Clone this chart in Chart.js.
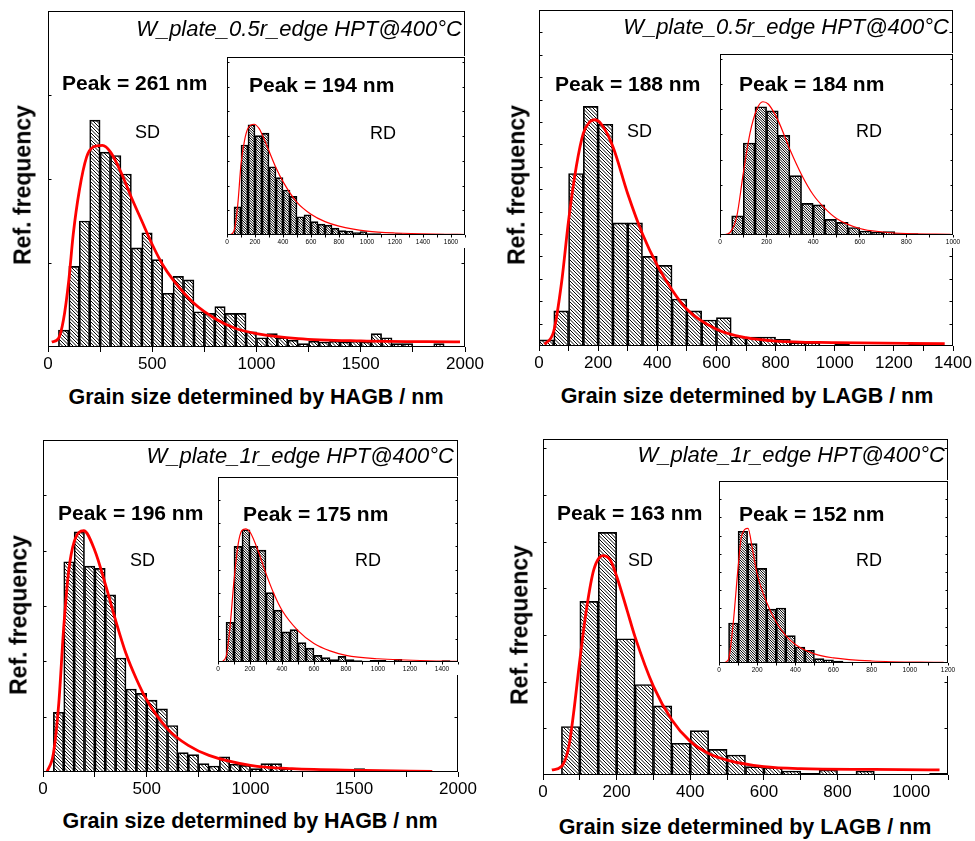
<!DOCTYPE html>
<html>
<head>
<meta charset="utf-8">
<title>Grain size distributions</title>
<script src="https://cdn.jsdelivr.net/npm/chart.js@4.4.0/dist/chart.umd.min.js"></script>
<style>
  body { margin: 0; background: #fff; }
  #fig { position: relative; width: 975px; height: 841px; overflow: hidden; font-family: "Liberation Sans", Arial, sans-serif; }
  #fig canvas { position: absolute; }
  .txt { position: absolute; white-space: nowrap; line-height: 1; color: #000; }
</style>
</head>
<body>
<div id="fig"></div>
<script>
'use strict';
Chart.defaults.font.family = '"Liberation Sans", Arial, sans-serif';
Chart.defaults.color = '#000';

// ─── data ─────────────────────────────────────────────
// relative frequency per 50 nm bin, bin i covers [50i, 50i+50) nm
const BIN_NM = 50;

// W_plate_0.5r_edge, HAGB
const sdHagb05 = [0, 1.0, 4.8, 7.5, 13.5, 11.6, 11.4, 10.3, 5.9, 6.8, 5.2, 3.2, 4.2, 4.0, 2.1, 2.0, 2.4, 2.0, 2.0, 0.9,
  0.55, 0.8, 0.55, 0.4, 0.2, 0.35, 0.3, 0.35, 0.3, 0.35, 0.3, 0.8, 0.55, 0.2, 0.2, 0, 0, 0.2];
const sdHagb05FitX = [18, 50, 74, 100, 121, 150, 185, 217, 261, 300, 350, 400, 450, 500, 550, 600, 700, 800, 900, 1000, 1200, 1500, 1976];
const sdHagb05FitY = [0.3, 0.5, 1.6, 4.0, 6.7, 9.3, 11.3, 11.9, 12.0, 11.6, 10.4, 8.9, 7.5, 6.1, 4.9, 4.0, 2.6, 1.7, 1.1, 0.8, 0.5, 0.36, 0.3];
const rdHagb05 = [0, 5.7, 18.2, 22.3, 20.1, 20.6, 13.8, 11.6, 9.1, 7.8, 3.7, 4.1, 2.7, 2.2, 2.0, 1.4, 0.9, 0.8, 0.5, 0.7,
  0.3, 0.3, 0.15, 0.2, 0.3, 0.2, 0.2, 0.1, 0, 0, 0.2, 0, 0.2];
const rdHagb05FitX = [17, 50, 77, 100, 125, 150, 194, 230, 250, 300, 350, 400, 500, 600, 700, 800, 1000, 1200, 1600, 1700];
const rdHagb05FitY = [0, 0.8, 6.2, 14.3, 19.1, 21.6, 22.4, 21.5, 20.4, 17.0, 13.6, 10.8, 6.6, 4.2, 2.7, 1.8, 0.8, 0.4, 0.15, 0.1];

// W_plate_0.5r_edge, LAGB
const sdLagb05 = [0.27, 1.57, 7.7, 10.7, 9.9, 5.5, 5.5, 4.0, 3.6, 2.1, 1.57, 1.16, 1.27, 0.4, 0.4, 0.4, 0.3, 0.15, 0.15, 0,
  0.1, 0, 0, 0, 0, 0.07];
const sdLagb05FitX = [19, 50, 76, 100, 126, 150, 171, 188, 211, 250, 300, 350, 400, 450, 500, 600, 700, 800, 1000, 1372];
const sdLagb05FitY = [0.07, 0.67, 2.8, 5.6, 8.0, 9.5, 10.0, 10.1, 9.9, 8.9, 6.8, 5.0, 3.6, 2.5, 1.64, 0.75, 0.37, 0.22, 0.15, 0.1];
const rdLagb05 = [0, 3.8, 18.3, 25.5, 24.7, 19.8, 11.8, 6.3, 6.0, 3.1, 2.5, 1.5, 0.8, 0.6, 0.7, 0.3, 0.27, 0.2, 0.13, 0.13];
const rdLagb05FitX = [14, 43, 72, 100, 129, 158, 184, 208, 250, 300, 350, 400, 450, 500, 600, 700, 800, 990];
const rdLagb05FitY = [0, 0.5, 3.7, 12.3, 20.3, 25.0, 26.5, 26.0, 22.7, 17.0, 12.0, 8.0, 5.3, 3.3, 1.3, 0.6, 0.27, 0.13];

// W_plate_1r_edge, HAGB
const sdHagb1 = [0, 5.4, 19.0, 21.7, 18.6, 18.4, 16.0, 10.3, 7.5, 7.1, 6.5, 5.7, 4.2, 1.75, 1.57, 0.75, 0.54, 1.36, 0.7, 0.6,
  0.3, 0.75, 0.75, 0.3, 0, 0, 0, 0, 0, 0, 0.3, 0, 0, 0, 0.1, 0, 0.1];
const sdHagb1FitX = [19, 50, 76, 100, 124, 150, 196, 250, 300, 350, 400, 450, 500, 600, 700, 800, 1000, 1200, 1550, 1876];
const sdHagb1FitY = [0, 1.66, 6.2, 13.1, 18.2, 20.8, 21.8, 20.0, 17.0, 13.7, 10.7, 8.4, 6.5, 3.9, 2.4, 1.5, 0.6, 0.3, 0.15, 0.06];
const rdHagb1 = [0, 8.6, 25.0, 28.6, 25.0, 24.2, 15.0, 11.2, 6.5, 7.0, 4.2, 3.0, 1.44, 0.94, 0.5, 1.2, 0.5, 0.29, 0.22, 0.36,
  0.36, 0, 0.58, 0, 0, 0, 0, 0, 0.29];
const rdHagb1FitX = [21, 50, 73, 100, 126, 149, 175, 200, 250, 300, 350, 400, 500, 600, 700, 800, 1000, 1400, 1500];
const rdHagb1FitY = [0, 1.1, 6.8, 17.6, 25.5, 28.4, 28.8, 28.1, 24.1, 19.1, 14.7, 11.2, 6.8, 4.0, 2.4, 1.44, 0.7, 0.2, 0.14];

// W_plate_1r_edge, LAGB
const sdLagb1 = [0, 5.2, 18.6, 26.0, 14.6, 9.7, 7.4, 3.4, 4.75, 2.75, 2.14, 0.9, 0.8, 0.43, 0.18, 0.54, 0, 0.43, 0, 0, 0, 0.18];
const sdLagb1FitX = [24, 50, 70, 83, 100, 119, 138, 163, 183, 200, 228, 250, 300, 350, 400, 450, 500, 600, 700, 900, 1077];
const sdLagb1FitY = [0.54, 0.9, 3.0, 6.6, 12.3, 18.0, 22.0, 23.5, 23.0, 21.3, 17.7, 14.8, 9.5, 5.9, 3.6, 2.3, 1.6, 0.9, 0.68, 0.6, 0.54];
const rdLagb1 = [0, 11.0, 36.2, 32.8, 26.0, 14.8, 15.1, 7.5, 4.4, 3.5, 1.2, 0.9, 0.55, 0.27, 0.18, 0.18];
const rdLagb1FitX = [21, 49, 74, 100, 118, 152, 176, 200, 250, 300, 350, 400, 500, 600, 800, 1177];
const rdLagb1FitY = [0, 0.9, 10.7, 26.2, 34.8, 37.0, 31.0, 24.4, 16.6, 11.2, 7.5, 5.1, 2.5, 1.4, 0.55, 0.18];

// modes of the fitted curves (nm)
const peaksSd = [261, 188, 196, 163];
const peaksRd = [194, 184, 175, 152];

const sampleNames = ['W_plate_0.5r_edge HPT@400°C', 'W_plate_0.5r_edge HPT@400°C', 'W_plate_1r_edge HPT@400°C', 'W_plate_1r_edge HPT@400°C'];
const xTitles = ['Grain size determined by HAGB / nm', 'Grain size determined by LAGB / nm',
  'Grain size determined by HAGB / nm', 'Grain size determined by LAGB / nm'];

// axis ranges: [max, major label step, minor tick step]
const sdAxes = [[2000, 500, 250], [1400, 200, 100], [2000, 500, 250], [1100, 200, 100]];
const rdAxes = [[1700, 200, 100], [1000, 200, 100], [1500, 200, 100], [1200, 200, 100]];
// y ranges: [max, tick step]
const sdY = [[20, 5], [15, 1], [30, 5], [36, 5]];
const rdY = [[36, 5], [36, 5], [40, 5], [50, 5]];

const series = [
  { sd: sdHagb05, sdFx: sdHagb05FitX, sdFy: sdHagb05FitY, rd: rdHagb05, rdFx: rdHagb05FitX, rdFy: rdHagb05FitY },
  { sd: sdLagb05, sdFx: sdLagb05FitX, sdFy: sdLagb05FitY, rd: rdLagb05, rdFx: rdLagb05FitX, rdFy: rdLagb05FitY },
  { sd: sdHagb1, sdFx: sdHagb1FitX, sdFy: sdHagb1FitY, rd: rdHagb1, rdFx: rdHagb1FitX, rdFy: rdHagb1FitY },
  { sd: sdLagb1, sdFx: sdLagb1FitX, sdFy: sdLagb1FitY, rd: rdLagb1, rdFx: rdLagb1FitX, rdFy: rdLagb1FitY },
];

// ─── layout (page pixels) ─────────────────────────────
const layout = [
  { main: { l: 48, t: 11, r: 465, b: 347 }, inset: { l: 227, t: 57, r: 465, b: 235 },
    title: [462, 37], peakSd: [62, 90], sd: [135, 138], peakRd: [249, 91.5], rd: [370, 139],
    xTitle: [256, 405], yTitle: [23, 185] },
  { main: { l: 539, t: 10, r: 953, b: 346 }, inset: { l: 720, t: 54, r: 953, b: 235 },
    title: [949, 34.5], peakSd: [555, 90.5], sd: [627, 137], peakRd: [739, 90.5], rd: [856, 137.5],
    xTitle: [747, 404], yTitle: [517, 185] },
  { main: { l: 43, t: 440, r: 458, b: 772 }, inset: { l: 218, t: 477, r: 458, b: 662 },
    title: [454, 463.5], peakSd: [58, 520], sd: [130, 566], peakRd: [243, 520.5], rd: [355, 566.5],
    xTitle: [250, 829], yTitle: [19, 615] },
  { main: { l: 543, t: 439, r: 948, b: 775 }, inset: { l: 719, t: 481, r: 948, b: 663 },
    title: [945, 462.5], peakSd: [557, 520], sd: [628, 566.5], peakRd: [739, 520.5], rd: [856, 566.5],
    xTitle: [745, 835], yTitle: [520, 625] },
];

const fig = document.getElementById('fig');

// diagonal "\" hatching: `lines` strokes per `tile` px so the spacing can be fractional
function hatch(tile, lines) {
  const c = document.createElement('canvas');
  c.width = c.height = tile;
  const g = c.getContext('2d');
  g.strokeStyle = '#000'; g.lineWidth = 1;
  g.beginPath();
  const gap = tile / lines;
  for (let off = -tile; off <= tile + 0.01; off += gap) {
    g.moveTo(off - 1, -1); g.lineTo(off + tile + 1, tile + 1);
  }
  g.stroke();
  return g.createPattern(c, 'repeat');
}

// box around the plot, inward y ticks on both sides, optional white backing for insets
function framePlugin(o) {
  return {
    id: 'frame',
    beforeDraw(chart) {
      if (!o.paper) return;
      const a = chart.chartArea, ctx = chart.ctx;
      ctx.save(); ctx.fillStyle = '#fff';
      ctx.fillRect(a.left - 1, a.top - 1, a.right - a.left + 2, a.bottom - a.top + o.paper);
      ctx.restore();
    },
    afterDraw(chart) {
      const a = chart.chartArea, ctx = chart.ctx, y = chart.scales.y;
      const l = Math.round(a.left) + 0.5, r = Math.round(a.right) - 0.5;
      const t = Math.round(a.top) + 0.5, b = Math.round(a.bottom) - 0.5;
      ctx.save(); ctx.strokeStyle = '#000'; ctx.lineWidth = 1;
      ctx.strokeRect(l, t, r - l, b - t);
      ctx.beginPath();
      for (let v = o.yStep; v < o.yMax - 1e-6; v += o.yStep) {
        const p = Math.round(y.getPixelForValue(v)) + 0.5;
        ctx.moveTo(l, p); ctx.lineTo(l + o.tick, p);
        ctx.moveTo(r, p); ctx.lineTo(r - o.tick, p);
      }
      ctx.stroke(); ctx.restore();
    }
  };
}

function histogram(box, st, bins, fx, fy, axis, yr) {
  const pad = st.pad;
  const w = box.r - box.l + pad.l + pad.r;
  const h = box.b - box.t + pad.t + st.axisH;
  const cv = document.createElement('canvas');
  cv.width = w; cv.height = h;
  Object.assign(cv.style, { left: (box.l - pad.l) + 'px', top: (box.t - pad.t) + 'px', width: w + 'px', height: h + 'px' });
  fig.appendChild(cv);
  const [xMax, major, minor] = axis;
  const [yMax, yStep] = yr;
  return new Chart(cv, {
    type: 'bar',
    data: {
      datasets: [
        { type: 'line', data: fx.map((x, i) => ({ x, y: fy[i] })), borderColor: '#ff0000', borderWidth: st.lw,
          pointRadius: 0, cubicInterpolationMode: 'monotone', fill: false, order: 0 },
        { type: 'bar', data: bins.map((v, i) => ({ x: BIN_NM * (i + 0.5), y: v })), backgroundColor: hatch(st.hatch[0], st.hatch[1]),
          borderColor: '#000', borderWidth: 1, barPercentage: 1, categoryPercentage: 1, order: 1 }
      ]
    },
    options: {
      responsive: false, maintainAspectRatio: false, animation: false, events: [],
      layout: { padding: { left: pad.l, right: pad.r, top: pad.t, bottom: 0 } },
      plugins: { legend: { display: false }, tooltip: { enabled: false } },
      scales: {
        x: {
          type: 'linear', min: 0, max: xMax, offset: false,
          border: { display: false },
          grid: { offset: false, drawOnChartArea: false, tickLength: st.tickLen, color: '#000' },
          ticks: { stepSize: minor, autoSkip: false, maxRotation: 0, padding: st.tickPad, font: { size: st.font },
            callback: v => (v % major === 0 ? String(v) : '') },
          afterFit: s => { s.height = st.axisH; }
        },
        y: { display: false, min: 0, max: yMax }
      }
    },
    plugins: [framePlugin({ paper: st.paper, yStep, yMax, tick: st.yTick })]
  });
}

const mainStyle = { pad: { l: 25, r: 25, t: 2 }, axisH: 30, tickLen: 5, tickPad: 2, font: 17, lw: 2.8, hatch: [7, 2], yTick: 3, paper: 0 };
const insetStyle = { pad: { l: 10, r: 10, t: 2 }, axisH: 13, tickLen: 2.5, tickPad: 1, font: 6.5, lw: 1.2, hatch: [5, 2], yTick: 2, paper: 15 };

function label(str, x, base, size, extra, anchor) {
  const el = document.createElement('div');
  el.className = 'txt';
  el.textContent = str;
  el.style.fontSize = size + 'px';
  el.style.top = (base - 0.8465 * size) + 'px';
  if (anchor === 'right') el.style.right = (975 - x) + 'px';
  else if (anchor === 'center') { el.style.left = x + 'px'; el.style.transform = 'translateX(-50%)'; }
  else el.style.left = x + 'px';
  Object.assign(el.style, extra || {});
  fig.appendChild(el);
}

function yLabel(str, cx, cy, size) {
  const el = document.createElement('div');
  el.className = 'txt';
  el.textContent = str;
  Object.assign(el.style, { fontSize: size + 'px', fontWeight: 'bold', left: cx + 'px', top: cy + 'px',
    transform: 'translate(-50%, -50%) rotate(-90deg)' });
  fig.appendChild(el);
}

series.forEach((s, i) => {
  const L = layout[i];
  histogram(L.main, mainStyle, s.sd, s.sdFx, s.sdFy, sdAxes[i], sdY[i]);
  histogram(L.inset, insetStyle, s.rd, s.rdFx, s.rdFy, rdAxes[i], rdY[i]);

  label(sampleNames[i], L.title[0], L.title[1], 22, { fontStyle: 'italic' }, 'right');
  label(`Peak = ${peaksSd[i]} nm`, L.peakSd[0], L.peakSd[1], 21, { fontWeight: 'bold' });
  label('SD', L.sd[0], L.sd[1], 18);
  label(`Peak = ${peaksRd[i]} nm`, L.peakRd[0], L.peakRd[1], 21, { fontWeight: 'bold' });
  label('RD', L.rd[0], L.rd[1], 18);
  label(xTitles[i], L.xTitle[0], L.xTitle[1], 21.5, { fontWeight: 'bold' }, 'center');
  yLabel('Ref. frequency', L.yTitle[0], L.yTitle[1], 23);
});
</script>
</body>
</html>
